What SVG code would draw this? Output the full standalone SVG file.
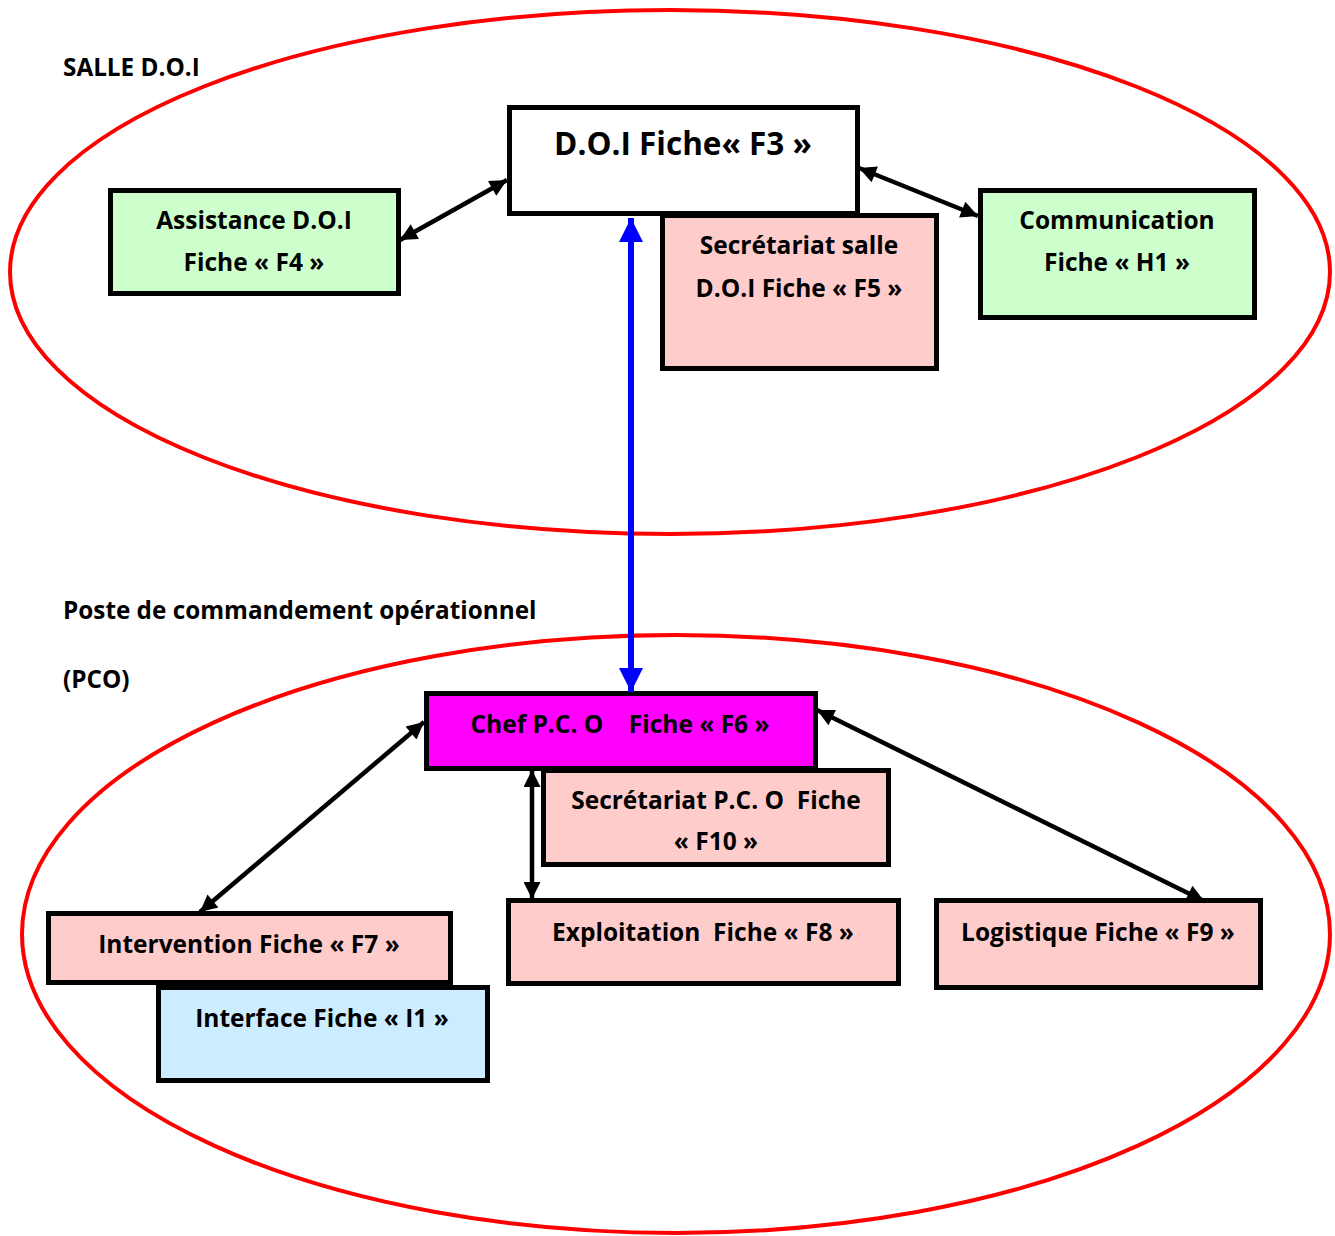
<svg xmlns="http://www.w3.org/2000/svg" width="1335" height="1236" viewBox="0 0 1335 1236">
<defs>
<style>
.zone{fill:none;stroke:#FF0000;stroke-width:4}
.box{stroke:#000;stroke-width:5}
.t{font-family:"Open Sans","Liberation Sans",sans-serif;font-weight:bold;fill:#000;text-anchor:middle;font-size:24.5px}
.lbl{font-family:"Open Sans","Liberation Sans",sans-serif;font-weight:bold;fill:#000;font-size:24.3px}
.c{fill:none;stroke:#000;stroke-width:4.5}
.cb{fill:none;stroke:#0000FF;stroke-width:6}
</style>
<marker id="ah" viewBox="0 0 10 10" refX="10" refY="5" markerWidth="22" markerHeight="17" markerUnits="userSpaceOnUse" orient="auto-start-reverse">
<path d="M0,0 L10,5 L0,10 z" fill="#000"/>
</marker>
<marker id="ahb" viewBox="0 0 10 10" refX="10" refY="5" markerWidth="26" markerHeight="24" markerUnits="userSpaceOnUse" orient="auto-start-reverse">
<path d="M0,0 L10,5 L0,10 z" fill="#0000FF"/>
</marker>
</defs>
<rect width="1335" height="1236" fill="#fff"/>
<ellipse class="zone" cx="670" cy="272" rx="660" ry="262"/>
<ellipse class="zone" cx="676" cy="934" rx="654" ry="299"/>
<text class="lbl" x="63" y="76">SALLE D.O.I</text>
<text class="lbl" x="63" y="619">Poste de commandement opérationnel</text>
<text class="lbl" x="63" y="688">(PCO)</text>

<g id="n-f3"><rect class="box" x="509.5" y="107.5" width="348" height="106" fill="#fff"/><text class="t" x="683" y="155" style="font-size:31.5px">D.O.I Fiche« F3 »</text></g>
<g id="n-f4"><rect class="box" x="110.5" y="190.5" width="288" height="103" fill="#CCFFCC"/><text class="t" x="254" y="229">Assistance D.O.I</text><text class="t" x="254" y="271">Fiche « F4 »</text></g>
<g id="n-f5"><rect class="box" x="662.5" y="215.5" width="274" height="153" fill="#FFCCCC"/><text class="t" x="799" y="254">Secrétariat salle</text><text class="t" x="799" y="297">D.O.I Fiche « F5 »</text></g>
<g id="n-h1"><rect class="box" x="980.5" y="190.5" width="274" height="127" fill="#CCFFCC"/><text class="t" x="1117" y="229">Communication</text><text class="t" x="1117" y="271">Fiche « H1 »</text></g>

<g id="n-f10"><rect class="box" x="543.5" y="770.5" width="345" height="94" fill="#FFCCCC"/><text class="t" x="716" y="809" xml:space="preserve">Secrétariat P.C. O  Fiche</text><text class="t" x="716" y="850">« F10 »</text></g>
<g id="n-f6"><rect class="box" x="426.5" y="693.5" width="389" height="75" fill="#FF00FF"/><text class="t" x="620" y="733" xml:space="preserve">Chef P.C. O    Fiche « F6 »</text></g>
<g id="n-f7"><rect class="box" x="48.5" y="913.5" width="402" height="69" fill="#FFCCCC"/><text class="t" x="249" y="953">Intervention Fiche « F7 »</text></g>
<g id="n-i1"><rect class="box" x="158.5" y="987.5" width="329" height="93" fill="#CCECFF"/><text class="t" x="322" y="1027">Interface Fiche « I1 »</text></g>
<g id="n-f8"><rect class="box" x="508.5" y="900.5" width="390" height="83" fill="#FFCCCC"/><text class="t" x="703" y="941" xml:space="preserve">Exploitation  Fiche « F8 »</text></g>
<g id="n-f9"><rect class="box" x="936.5" y="900.5" width="324" height="87" fill="#FFCCCC"/><text class="t" x="1098" y="941">Logistique Fiche « F9 »</text></g>

<g id="connectors">
<line class="c" x1="400" y1="240" x2="507" y2="180" marker-start="url(#ah)" marker-end="url(#ah)"/>
<line class="c" x1="859" y1="168" x2="978" y2="216" marker-start="url(#ah)" marker-end="url(#ah)"/>
<line class="cb" x1="631" y1="218" x2="631" y2="692" marker-start="url(#ahb)" marker-end="url(#ahb)"/>
<line class="c" x1="424" y1="722" x2="200" y2="912" marker-start="url(#ah)" marker-end="url(#ah)"/>
<line class="c" x1="532" y1="770" x2="532" y2="899" marker-start="url(#ah)" marker-end="url(#ah)"/>
<line class="c" x1="817" y1="710" x2="1204" y2="901" marker-start="url(#ah)" marker-end="url(#ah)"/>
</g>
</svg>
